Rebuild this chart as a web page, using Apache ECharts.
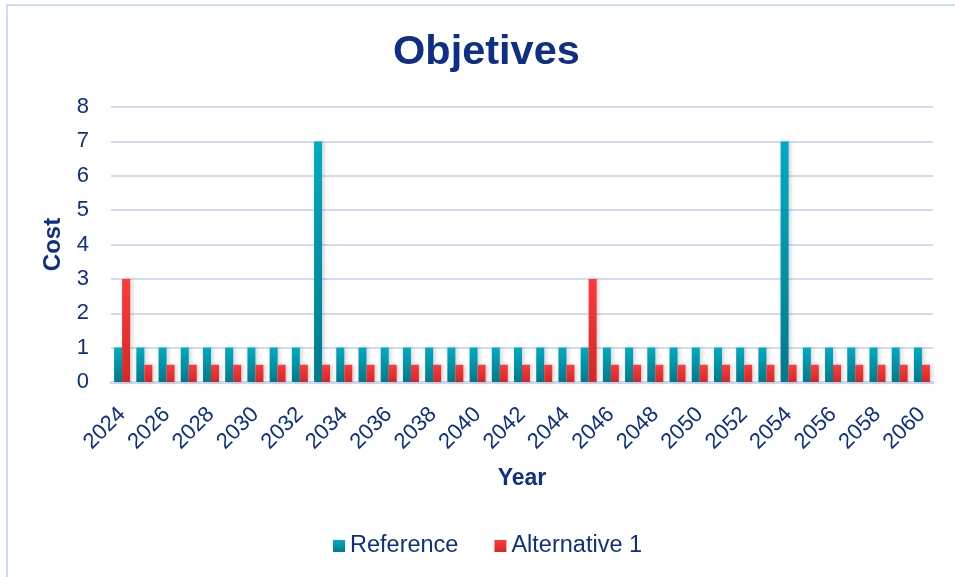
<!DOCTYPE html>
<html>
<head>
<meta charset="utf-8">
<script src="https://cdn.jsdelivr.net/npm/echarts@6/dist/echarts.min.js"></script>
<style>html,body{margin:0;padding:0;background:#fff}#c{width:955px;height:577px}</style>
</head>
<body>
<div id="c"></div>
<script>
var years = [];
for (var y = 2024; y <= 2060; y++) years.push(String(y));
var referenceValues = [1,1,1,1,1,1,1,1,1,7,1,1,1,1,1,1,1,1,1,1,1,1,1,1,1,1,1,1,1,1,7,1,1,1,1,1,1];
var alternative1Values = [3,0.5,0.5,0.5,0.5,0.5,0.5,0.5,0.5,0.5,0.5,0.5,0.5,0.5,0.5,0.5,0.5,0.5,0.5,0.5,0.5,3,0.5,0.5,0.5,0.5,0.5,0.5,0.5,0.5,0.5,0.5,0.5,0.5,0.5,0.5,0.5];
var yTicks = [0,1,2,3,4,5,6,7,8];

var navy = '#0f2f86';
var font = 'Liberation Sans, Arial, sans-serif';
var chart = echarts.init(document.getElementById('c'));
chart.setOption({
  backgroundColor: '#fff',
  animation: false,
  graphic: [{
    type: 'rect', shape: {x: 7, y: 5, width: 980, height: 620},
    style: {fill: 'none', stroke: '#cfdaf6', lineWidth: 2}, silent: true
  }],
  title: {
    text: 'Objetives', left: 388, top: 27,
    textStyle: {color: navy, fontSize: 41.5, fontWeight: 'bold', fontFamily: font}
  },
  legend: {
    top: 529, left: 328, itemWidth: 12, itemHeight: 12, itemGap: 36,
    icon: 'rect',
    textStyle: {color: navy, fontSize: 23.5, fontFamily: font},
    data: ['Reference', 'Alternative 1']
  },
  grid: {left: 111, right: 22, top: 107, bottom: 195},
  xAxis: {
    type: 'category', data: years,
    name: 'Year', nameLocation: 'middle', nameGap: 85,
    nameTextStyle: {color: navy, fontSize: 23, fontWeight: 'bold', fontFamily: font},
    axisLine: {lineStyle: {color: '#cfdaf6', width: 3}},
    axisTick: {show: false},
    axisLabel: {interval: 1, rotate: 45, color: navy, fontSize: 22, fontFamily: font, margin: 29}
  },
  yAxis: {
    type: 'value', min: 0, max: 8, interval: 1,
    name: 'Cost', nameLocation: 'middle', nameGap: 37,
    nameTextStyle: {color: navy, fontSize: 24, fontWeight: 'bold', fontFamily: font},
    axisLine: {show: false}, axisTick: {show: false},
    axisLabel: {color: navy, fontSize: 22, fontFamily: font, margin: 22,
      formatter: function (v) { return yTicks.indexOf(v) >= 0 ? String(v) : ''; }},
    splitLine: {lineStyle: {color: '#d3dbf3', width: 2}}
  },
  series: [{
    name: 'Reference', type: 'bar', data: referenceValues,
    barGap: '0%', barCategoryGap: '28%',
    itemStyle: {
      color: new echarts.graphic.LinearGradient(0, 0, 0, 1, [
        {offset: 0, color: '#00abc2'}, {offset: 1, color: '#007a8c'}]),
      shadowColor: 'rgba(0,0,0,0.18)', shadowBlur: 4, shadowOffsetX: 2
    }
  }, {
    name: 'Alternative 1', type: 'bar', data: alternative1Values,
    itemStyle: {
      color: new echarts.graphic.LinearGradient(0, 0, 0, 1, [
        {offset: 0, color: '#ff3a3a'}, {offset: 1, color: '#d42828'}]),
      shadowColor: 'rgba(0,0,0,0.18)', shadowBlur: 4, shadowOffsetX: 2
    }
  }]
});
</script>
</body>
</html>
